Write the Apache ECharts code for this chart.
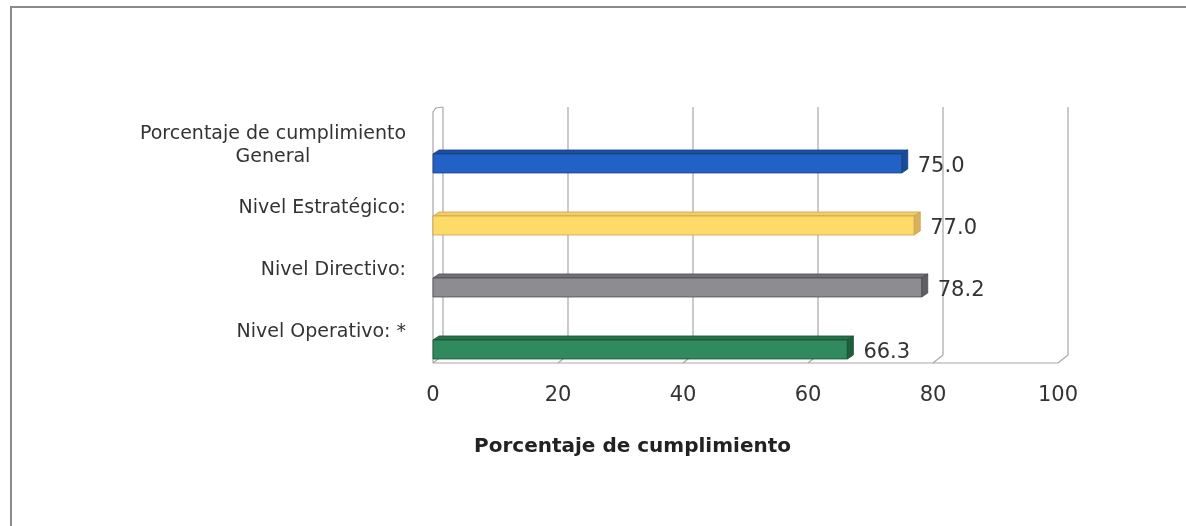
<!DOCTYPE html>
<html>
<head>
<meta charset="utf-8">
<script src="https://cdn.jsdelivr.net/npm/echarts@6/dist/echarts.min.js"></script>
<style>
  html, body { margin: 0; padding: 0; background: #fff; }
  #chart { width: 1186px; height: 526px; }
</style>
</head>
<body>
<div id="chart"></div>
<script>
// Categories (top to bottom) and compliance percentages
const categories = [
  'Porcentaje de cumplimiento\nGeneral',
  'Nivel Estratégico:',
  'Nivel Directivo:',
  'Nivel Operativo: *'
];
const values = [75.0, 77.0, 78.2, 66.3];
const xTicks = [0, 20, 40, 60, 80, 100];
const axisTitle = 'Porcentaje de cumplimiento';

// Face colours per bar: front, top, end
const faceColors = [
  { front: '#2262c6', top: '#1a4fa6', end: '#1a4a9c', edge: '#17407f' },
  { front: '#fddb68', top: '#f3cf62', end: '#d7b25c', edge: '#c9a24e' },
  { front: '#8d8d91', top: '#727276', end: '#5f5f63', edge: '#4d4d51' },
  { front: '#2f8a5d', top: '#25714b', end: '#1f5d3f', edge: '#1b4e35' }
];

const DEPTH_X = 10, DEPTH_Y = 8;     // wall depth offset
const BAR_DX = 6, BAR_DY = 4;        // bar depth offset
const FONT = '"DejaVu Sans", "Open Sans", sans-serif';
const WALL = '#a8a8a8';

const chart = echarts.init(document.getElementById('chart'), null, { renderer: 'canvas' });

// Back-plane gridlines, left wall and floor edge
function renderWalls(params, api) {
  const v = api.value(0);
  const cs = params.coordSys;
  const xf = api.coord([v, 0])[0];
  const xb = xf + DEPTH_X;
  const topB = cs.y - DEPTH_Y;
  const botF = cs.y + cs.height;
  const botB = botF - DEPTH_Y;
  const children = [{
    type: 'polyline',
    shape: { points: [[xb, topB], [xb, botB], [xf, botF]] },
    style: { stroke: WALL, lineWidth: 1.2, fill: null }
  }];
  if (v === 0) {
    children.push({
      type: 'polyline',
      shape: { points: [[xb, topB], [xf + 3, topB + 1], [xf, topB + 5], [xf, botF]] },
      style: { stroke: WALL, lineWidth: 1.2, fill: null }
    });
    const xEnd = api.coord([100, 0])[0];
    children.push({
      type: 'polyline',
      shape: { points: [[xf, botF], [xEnd, botF]] },
      style: { stroke: WALL, lineWidth: 1.2, fill: null }
    });
  }
  return { type: 'group', children: children };
}

// Bars with front, top and end faces plus value label
function renderBars(params, api) {
  const idx = params.dataIndex;
  const v = api.value(0);
  const cat = api.value(1);
  const p0 = api.coord([0, cat]);
  const p1 = api.coord([v, cat]);
  const band = api.size([0, 1])[1];
  const bottom = p0[1] + band * 0.435;
  const top = bottom - 19;
  const x0 = p0[0];
  const x1 = p1[0];
  const c = faceColors[idx];
  return {
    type: 'group',
    children: [
      {
        type: 'polygon',
        shape: { points: [[x0, top], [x1, top], [x1 + BAR_DX, top - BAR_DY], [x0 + BAR_DX, top - BAR_DY]] },
        style: { fill: c.top, stroke: c.edge, lineWidth: 0.8 }
      },
      {
        type: 'rect',
        shape: { x: x0, y: top, width: x1 - x0, height: bottom - top },
        style: { fill: c.front, stroke: c.edge, lineWidth: 0.8 }
      },
      {
        type: 'polygon',
        shape: { points: [[x1, top], [x1 + BAR_DX, top - BAR_DY], [x1 + BAR_DX, bottom - BAR_DY], [x1, bottom]] },
        style: { fill: c.end, stroke: c.edge, lineWidth: 0.8 }
      },
      {
        type: 'text',
        style: {
          text: v.toFixed(1),
          x: x1 + BAR_DX + 10,
          y: (top + bottom) / 2 + 3,
          verticalAlign: 'middle',
          align: 'left',
          fill: '#333',
          font: '21px ' + FONT
        }
      }
    ]
  };
}

chart.setOption({
  animation: false,
  backgroundColor: '#fff',
  graphic: [{
    type: 'rect',
    shape: { x: 11, y: 7, width: 1300, height: 700 },
    style: { fill: null, stroke: '#8a8a8a', lineWidth: 2 },
    z: 0
  }],
  grid: { left: 433, right: 128, top: 115, bottom: 163, containLabel: false },
  xAxis: {
    type: 'value',
    min: 0,
    max: 100,
    interval: 20,
    axisLine: { show: false },
    axisTick: { show: false },
    splitLine: { show: false },
    axisLabel: {
      margin: 22,
      color: '#333',
      fontSize: 21,
      fontFamily: FONT,
      formatter: (val) => (xTicks.indexOf(val) >= 0 ? String(val) : '')
    },
    name: axisTitle,
    nameLocation: 'middle',
    nameGap: 74,
    nameTextStyle: {
      color: '#222',
      fontSize: 20,
      fontWeight: 'bold',
      fontFamily: FONT,
      padding: [0, 226, 0, 0]
    }
  },
  yAxis: {
    type: 'category',
    data: categories,
    inverse: true,
    axisLine: { show: false },
    axisTick: { show: false },
    splitLine: { show: false },
    axisLabel: {
      margin: 27,
      color: '#333',
      fontSize: 19,
      fontFamily: FONT,
      lineHeight: 23,
      formatter: (val) => val.split('\n').map((s) => '{c|' + s + '}').join('\n'),
      rich: {
        c: { align: 'center', color: '#333', fontSize: 19, fontFamily: FONT, lineHeight: 23 }
      }
    }
  },
  series: [
    {
      type: 'custom',
      name: 'walls',
      renderItem: renderWalls,
      data: xTicks.map((t) => [t]),
      encode: { x: 0 },
      clip: false,
      silent: true,
      z: 1
    },
    {
      type: 'custom',
      name: 'cumplimiento',
      renderItem: renderBars,
      data: values.map((v, i) => [v, i]),
      encode: { x: 0, y: 1 },
      clip: false,
      z: 2
    }
  ]
});
</script>
</body>
</html>
